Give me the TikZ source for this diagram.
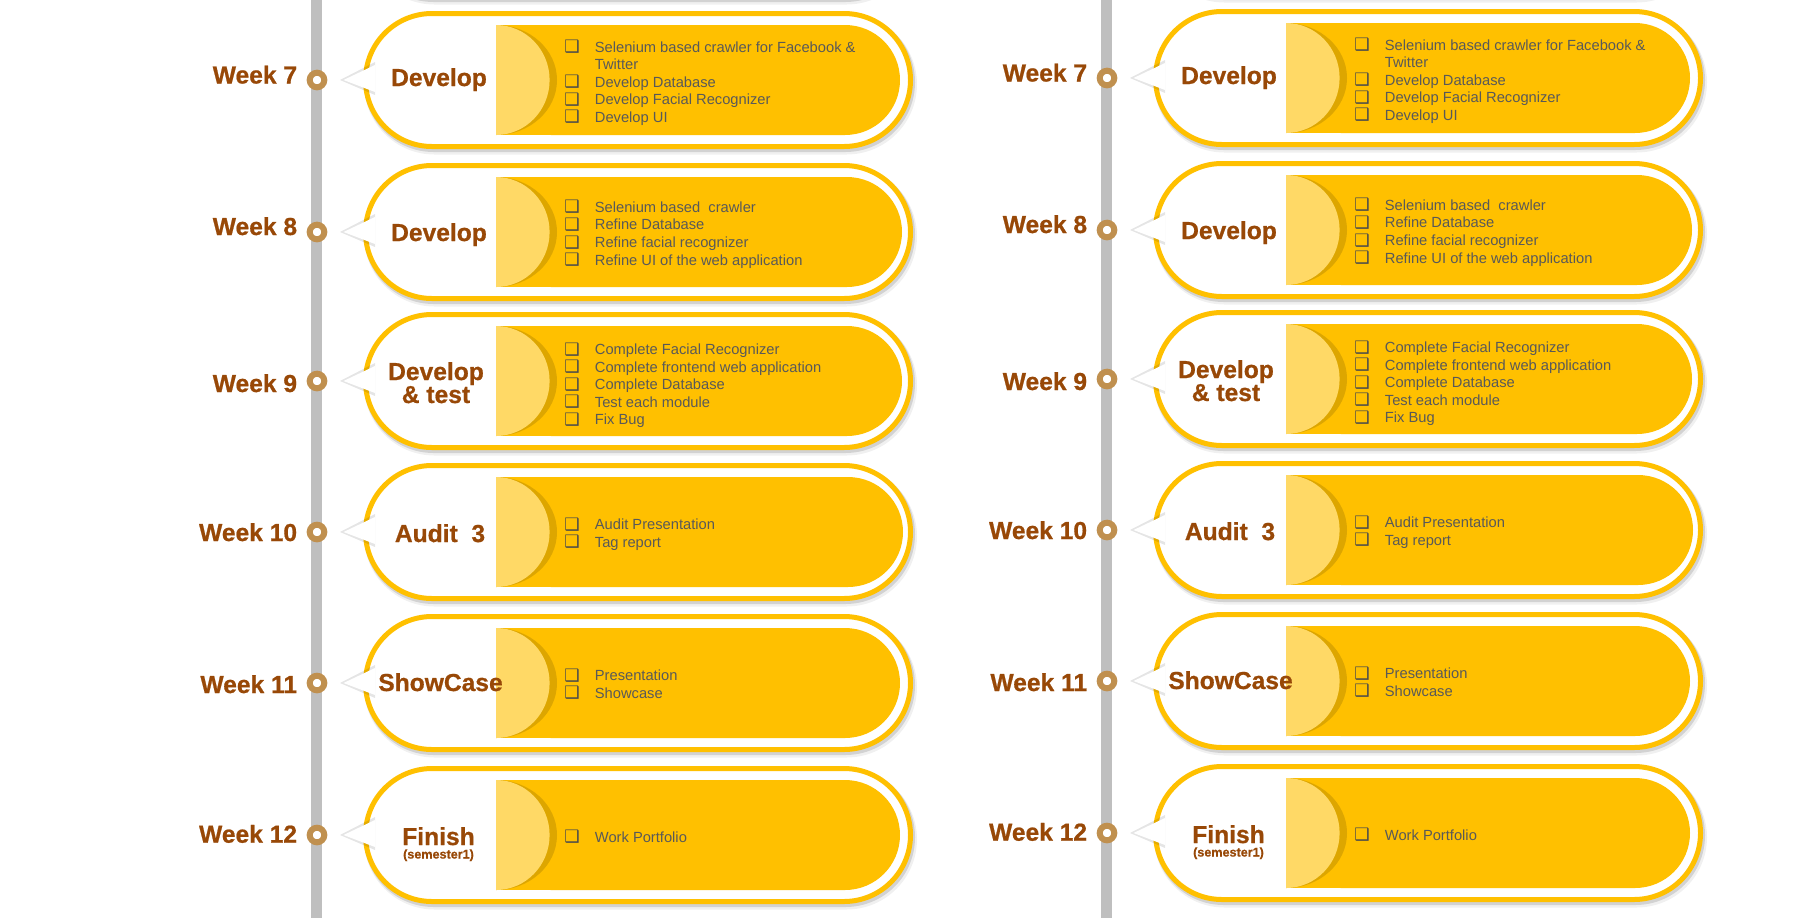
\documentclass[tikz,border=0pt]{standalone}
\usepackage{fontspec}
\setmainfont{Liberation Sans}
\newfontfamily\dvfont{DejaVu Sans}
\newfontfamily\heavyfont[FakeBold=0.7]{Liberation Sans Bold}
\definecolor{gold}{HTML}{FFC000}
\definecolor{lightgold}{HTML}{FFD966}
\definecolor{darkgold}{HTML}{DDA600}
\definecolor{wkbrown}{HTML}{984807}
\definecolor{ringc}{HTML}{C0904F}
\definecolor{barc}{HTML}{BFBFBF}
\definecolor{bodyc}{HTML}{595959}
\tikzset{
  weekl/.style={anchor=base east, font=\heavyfont\fontsize{12.3}{14}\selectfont, text=wkbrown, inner sep=0pt},
  titl/.style={anchor=base, font=\heavyfont\fontsize{12.3}{14}\selectfont, text=wkbrown, inner sep=0pt},
  semi/.style={anchor=base, font=\heavyfont\fontsize{6.3}{7}\selectfont, text=wkbrown, inner sep=0pt},
  chk/.style={anchor=base west, font=\dvfont\bfseries\fontsize{8.6}{9}\selectfont, text=bodyc!85!black, inner sep=0pt},
  itm/.style={anchor=base west, font=\fontsize{7.35}{8.8}\selectfont, text=bodyc, inner sep=0pt},
  dot/.style={circle, draw=ringc, line width=3pt, fill=white, inner sep=0pt, minimum size=7.3pt},
}
% box graphics: #1 = y centre, #2 = inner right end
\newcommand\stagebox[2]{%
  \fill[black,opacity=.06,rounded corners=35.2pt] (364,#1-66) rectangle (917,#1+74.5);
  \fill[black,opacity=.12,rounded corners=34.8pt] (364,#1-67.5) rectangle (915,#1+72);
  \draw[gold,line width=2.5pt,fill=white,rounded corners=33.25pt] (365.5,#1-66.5) rectangle (910.5,#1+66.5);
  \fill[gold,rounded corners=27.5pt] (496,#1-55) rectangle (#2,#1+55);
  \fill[gold] (496,#1-55) rectangle (700,#1+55);
  \begin{scope}
    \clip (496,#1-55) rectangle (600,#1+55);
    \fill[darkgold] (496,#1) ellipse [x radius=30.5pt, y radius=27.5pt];
    \fill[lightgold] (496,#1) ellipse [x radius=26.8pt, y radius=27.5pt];
  \end{scope}
  \fill[black,opacity=.10] (340,#1) -- (375,#1-18) -- (375,#1+15) -- cycle;
  \fill[white] (343.5,#1) -- (375,#1-15) -- (375,#1+12) -- cycle;
}
\newcommand\itemline[3]{%
  \node[chk] (#1c) at (564,#2+0.5) {❑};
  \node[itm] (#1t) at (594.5,#2) {#3};
}
\newcommand\drawcolumn[1]{%
  \fill[barc] (311,-10) rectangle (322,930);
  \stagebox{-70}{900}
  \stagebox{80}{900}
  \stagebox{232}{902}
  \stagebox{381}{902}
  \stagebox{532}{903}
  \stagebox{683}{900}
  \stagebox{835}{900}
  % week 7
  \node[dot] (#1d7) at (317,80) {};
  \node[weekl] (#1w7) at (297.5,83.5) {Week 7};
  \node[titl] (#1h7) at (439,86) {Develop};
  \itemline{#1a7}{52}{Selenium based crawler for Facebook \&}
  \node[itm] (#1a7x) at (594.5,69.6) {Twitter};
  \itemline{#1b7}{87.2}{Develop Database}
  \itemline{#1c7}{104.8}{Develop Facial Recognizer}
  \itemline{#1e7}{122.4}{Develop UI}
  % week 8
  \node[dot] (#1d8) at (317,232) {};
  \node[weekl] (#1w8) at (297.5,235) {Week 8};
  \node[titl] (#1h8) at (439,241) {Develop};
  \itemline{#1a8}{212.3}{Selenium based\ \ crawler}
  \itemline{#1b8}{229.9}{Refine Database}
  \itemline{#1c8}{247.5}{Refine facial recognizer}
  \itemline{#1e8}{265.1}{Refine UI of the web application}
  % week 9
  \node[dot] (#1d9) at (317,381) {};
  \node[weekl] (#1w9) at (297.5,392) {Week 9};
  \node[titl] (#1h9) at (436,380) {Develop};
  \node[titl] (#1g9) at (436,403) {\& test};
  \itemline{#1a9}{354.5}{Complete Facial Recognizer}
  \itemline{#1b9}{372.1}{Complete frontend web application}
  \itemline{#1c9}{389.7}{Complete Database}
  \itemline{#1e9}{407.3}{Test each module}
  \itemline{#1f9}{424.9}{Fix Bug}
  % week 10
  \node[dot] (#1d10) at (317,532) {};
  \node[weekl] (#1w10) at (297.5,541) {Week 10};
  \node[titl] (#1h10) at (440,542) {Audit\ \ 3};
  \itemline{#1a10}{529.5}{Audit Presentation}
  \itemline{#1b10}{547.1}{Tag report}
  % week 11
  \node[dot] (#1d11) at (317,683) {};
  \node[weekl] (#1w11) at (297.5,693) {Week 11};
  \node[titl] (#1h11) at (440.5,691) {ShowCase};
  \itemline{#1a11}{680.5}{Presentation}
  \itemline{#1b11}{698.1}{Showcase}
  % week 12
  \node[dot] (#1d12) at (317,835) {};
  \node[weekl] (#1w12) at (297.5,842.7) {Week 12};
  \node[titl] (#1h12) at (438.5,845) {Finish};
  \node[semi] (#1s12) at (438.5,858.5) {(semester1)};
  \itemline{#1a12}{842}{Work Portfolio}
}
\begin{document}
\begin{tikzpicture}[x=0.5pt,y=-0.5pt]
  \useasboundingbox (0,0) rectangle (1800,917);
  \clip (0,0) rectangle (1800,917);
  \fill[white] (0,0) rectangle (1800,917);
  \drawcolumn{L}
  \begin{scope}[shift={(790,-2)}]
    \drawcolumn{R}
  \end{scope}
\end{tikzpicture}
\end{document}
